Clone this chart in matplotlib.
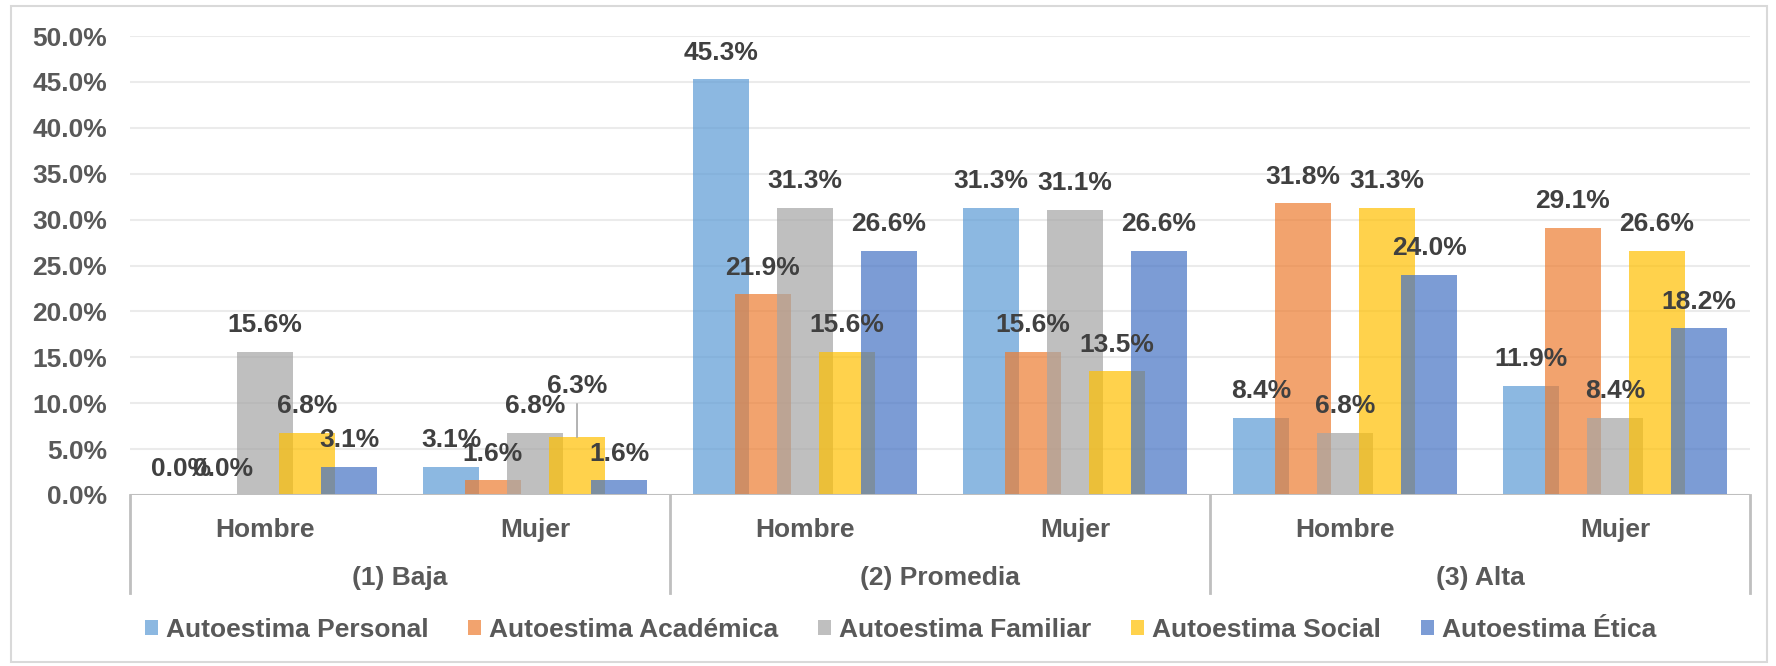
import matplotlib.pyplot as plt
import matplotlib.transforms as mtransforms
from matplotlib.patches import Rectangle
import numpy as np

plt.rcParams['font.family'] = ['Liberation Sans', 'DejaVu Sans']
plt.rcParams['font.weight'] = 'bold'

groups = ['(1) Baja', '(2) Promedia', '(3) Alta']
sexes = ['Hombre', 'Mujer']
series = ['Autoestima Personal', 'Autoestima Académica', 'Autoestima Familiar',
          'Autoestima Social', 'Autoestima Ética']

# order: Baja H, Baja M, Promedia H, Promedia M, Alta H, Alta M
personal = [0.0, 3.1, 45.3, 31.3, 8.4, 11.9]
academica = [0.0, 1.6, 21.9, 15.6, 31.8, 29.1]
familiar = [15.6, 6.8, 31.3, 31.1, 6.8, 8.4]
social = [6.8, 6.3, 15.6, 13.5, 31.3, 26.6]
etica = [3.1, 1.6, 26.6, 26.6, 24.0, 18.2]

colors = ['#5B9BD5', '#ED7D31', '#A5A5A5', '#FFC000', '#4472C4']
all_vals = [personal, academica, familiar, social, etica]

W, H = 1776, 666
fig = plt.figure(figsize=(W / 100, H / 100), dpi=100)
ax = fig.add_axes([130 / W, 1 - 495 / H, 1620 / W, 459 / H])

lab_col = '#404040'
axis_col = '#595959'
fs = 19

x = np.arange(len(personal))
step = 0.1556
bw = 0.2074
for i, (name, vals, c) in enumerate(zip(series, all_vals, colors)):
    xs = x + (i - 2) * step
    ax.bar(xs, vals, width=bw, color=c, alpha=0.7, label=name, zorder=2)
    for j, (xx, v) in enumerate(zip(xs, vals)):
        off = 19
        if i == 3 and j == 1:
            # label moved up with a leader line
            off = 37
            ax.annotate('', xy=(xx, v), xytext=(0, 24), textcoords='offset points',
                        arrowprops=dict(arrowstyle='-', color='#A6A6A6', lw=1.2,
                                        shrinkA=0, shrinkB=0))
        ax.annotate(f'{v:.1f}%', xy=(xx, v), xytext=(0, off), textcoords='offset points',
                    ha='center', va='center', fontsize=fs, color=lab_col,
                    fontweight='bold', zorder=5)

ax.set_xlim(-0.5, 5.5)
ax.set_ylim(0, 50)
ax.set_yticks(np.arange(0, 51, 5))
ax.set_yticklabels([f'{t:.1f}%' for t in np.arange(0, 51, 5)])
ax.tick_params(axis='y', length=0, pad=16.5, labelsize=fs, labelcolor=axis_col)
ax.set_xticks([])
for s in ax.spines.values():
    s.set_visible(False)
ax.yaxis.grid(True, color='#EBEBEB', lw=1.5)
ax.set_axisbelow(True)
ax.axhline(0, color='#BFBFBF', lw=2.2, zorder=3)

# hierarchical category axis
tr = mtransforms.blended_transform_factory(ax.transData, ax.transAxes)
for xv in [-0.5, 1.5, 3.5, 5.5]:
    ax.plot([xv, xv], [0, -98 / 459], color='#BFBFBF', lw=2, transform=tr,
            clip_on=False)
for j in range(len(personal)):
    ax.text(j, -35 / 459, sexes[j % 2], transform=tr, ha='center', va='center',
            fontsize=fs, color=axis_col, fontweight='bold')
for g, name in enumerate(groups):
    ax.text(2 * g + 0.5, -83 / 459, name, transform=tr, ha='center', va='center',
            fontsize=fs, color=axis_col, fontweight='bold')

leg = fig.legend(loc='center', bbox_to_anchor=(0.507, 1 - 630 / H), ncol=5,
                 frameon=False, fontsize=fs, handlelength=0.5, handleheight=0.5,
                 handletextpad=0.3, columnspacing=1.5)
for t in leg.get_texts():
    t.set_color(axis_col)

fig.patches.append(Rectangle((11 / W, 4 / H), 1756 / W, 656 / H, transform=fig.transFigure,
                             fill=False, edgecolor='#D9D9D9', lw=1.5))

fig.savefig('out.png', dpi=100)
